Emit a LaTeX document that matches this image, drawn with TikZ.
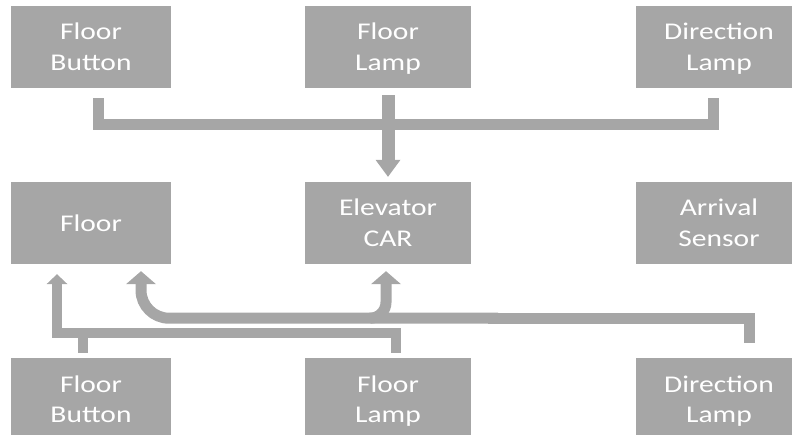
\documentclass[tikz,border=0pt]{standalone}
\usepackage{fontspec}
\setmainfont{Carlito}[FakeStretch=1.23]
\usetikzlibrary{arrows.meta,calc}
\definecolor{boxgray}{HTML}{A6A6A6}
\newcommand\twol[2]{\raisebox{7pt}[0pt][0pt]{\vtop{\halign{\hfil##\hfil\cr#1\cr#2\cr}}}}
\newcommand\onel[1]{\raisebox{-8.5pt}[0pt][0pt]{#1}}
\begin{document}
\begin{tikzpicture}[x=1pt,y=-1pt,
  blk/.style={fill=boxgray,text=white,inner sep=0pt,minimum height=82pt,
    font=\fontsize{24}{31}\selectfont},
  narrow/.style={blk,minimum width=160pt},
  wide/.style={blk,minimum width=166pt},
  bus/.style={draw=boxgray,line cap=butt,line join=miter},
  tipA/.style={-{Triangle[width=30pt,length=13pt,line width=0pt]}},
  tipB/.style={-{Triangle[width=21pt,length=10pt,line width=0pt]}},
  tipC/.style={-{Triangle[width=25pt,length=17pt,line width=0pt]}}
]
\useasboundingbox (0,0) rectangle (792,435);
\clip (0,0) rectangle (792,435);
% row 1
\node[narrow] (fb1) at (91,47)  {\twol{Floor}{Button}};
\node[wide]   (fl1) at (388,47) {\twol{Floor}{Lamp}};
\node[wide]   (dl1) at (719,47) {\twol{Direction}{Lamp}};
% row 2
\node[narrow] (fl)  at (91,223)  {\onel{Floor}};
\node[wide]   (car) at (388,223) {\twol{Elevator}{CAR}};
\node[wide]   (as)  at (719,223) {\twol{Arrival}{Sensor}};
% row 3
\node[narrow] (fb2) at (91,399)  {\twol{Floor}{Button}};
\node[wide]   (fl2) at (388,399) {\twol{Floor}{Lamp}};
\node[wide]   (dl2) at (719,399) {\twol{Direction}{Lamp}};
% top connectors
\coordinate (t1) at ($(fb1.south)+(7,10)$);
\coordinate (t2) at ($(dl1.south)+(-6,10)$);
\draw[bus,line width=11pt] (t1) -- ++(0,26.5) -| (t2);
\draw[bus,line width=13pt,tipC] ($(fl1.south)+(0,7)$) -- ($(car.north)+(0,-5)$);
% lower-left connector
\coordinate (b1) at ($(fb2.north)+(-8.5,-5)$);
\coordinate (b2) at ($(fl2.north)+(8,-5)$);
\coordinate (a1) at ($(fl.south)+(-34,10)$);
\draw[bus,line width=10pt] (b1) -- ++(0,-20.5);
\draw[bus,line width=10pt,tipB] (b2) |- ($(a1)+(0,58.5)$) -- (a1);
% lower-right connector
\coordinate (r1) at ($(dl2.north)+(30.5,-15)$);
\coordinate (a2) at ($(fl.south)+(50,7)$);
\coordinate (a3) at ($(car.south)+(-2,7)$);
\draw[bus,line width=11pt] (r1) |- ($(car.south)+(100,54)$);
\draw[bus,line width=11pt,rounded corners=28pt,tipA] ($(car.south)+(110,54)$) -| (a2);
\draw[bus,line width=11pt,rounded corners=16pt,tipA] ($(car.south)+(-18,54)$) -| (a3);
\end{tikzpicture}
\end{document}
